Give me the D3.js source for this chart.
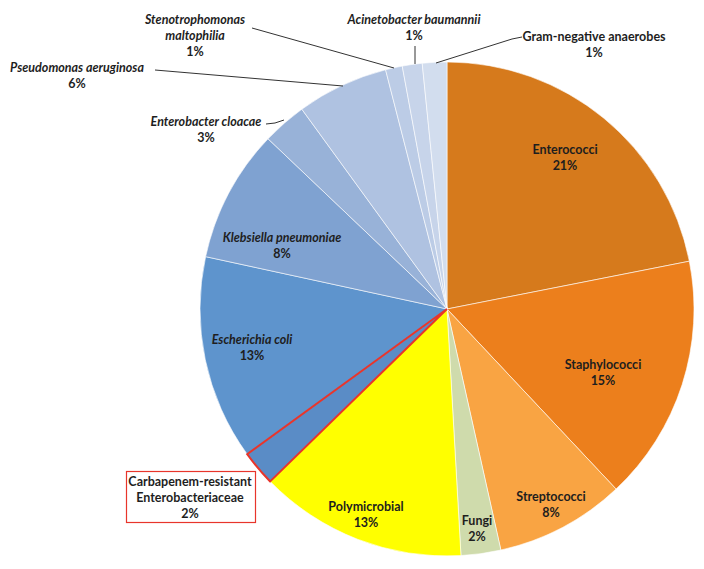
<!DOCTYPE html>
<html><head><meta charset="utf-8">
<script src="https://cdn.jsdelivr.net/npm/d3@7/dist/d3.min.js"></script>
<style>
html,body{margin:0;padding:0;background:#fff;}
svg text{font-family:Lato,"Open Sans",sans-serif;font-weight:bold;font-size:12.5px;fill:#1e1e1e;}
</style></head>
<body><svg id="c" width="704" height="569"></svg>
<script>
const categories = ["Enterococci","Staphylococci","Streptococci","Fungi","Polymicrobial","Carbapenem-resistant Enterobacteriaceae","Escherichia coli","Klebsiella pneumoniae","Enterobacter cloacae","Pseudomonas aeruginosa","Stenotrophomonas maltophilia","Acinetobacter baumannii","Gram-negative anaerobes"];
const values = [21.9,16.1,8.5,2.6,13.6,2.3,13.4,8.7,2.9,6.0,1.1,1.3,1.6];
const pctLabels = ["21%","15%","8%","2%","13%","2%","13%","8%","3%","6%","1%","1%","1%"];
const italicFlags = [false,false,false,false,false,false,true,true,true,true,true,true,false];
const colors = ["#D67A1C","#EC7F1C","#F9A443","#CFDBAC","#FFFF00","#5A8CC6","#5E94CD","#7FA2D1","#98B2D8","#AFC2E1","#BCCCE6","#C7D4EA","#D2DDEE"];

// layout (not data): label line texts and anchor positions
const labelLines = [["Enterococci"],["Staphylococci"],["Streptococci"],["Fungi"],["Polymicrobial"],["Carbapenem-resistant","Enterobacteriaceae"],["Escherichia coli"],["Klebsiella pneumoniae"],["Enterobacter cloacae"],["Pseudomonas aeruginosa"],["Stenotrophomonas","maltophilia"],["Acinetobacter baumannii"],["Gram-negative anaerobes"]];
const labelXY = [[565,154],[603,369],[551,501],[477,525],[366,511],[190,486],[252,344],[282,242],[206,126],[77,72],[195,24],[414,24],[594,41]];
const leaderPts = [null,null,null,null,null,null,null,null,
  [[266,124],[275,123],[284,120]],
  [[155,70],[343,86]],
  [[252,28],[394,68]],
  [[415,46],[415,64]],
  [[522,37],[512,39],[436,63]]];

const cx = 447, cy = 309, r = 247;
const svg = d3.select("#c");
const g = svg.append("g").attr("transform",`translate(${cx},${cy})`);
const pie = d3.pie().sort(null).value(d=>d).startAngle(0).endAngle(2*Math.PI);
const arcs = pie(values);
const arc = d3.arc().innerRadius(0).outerRadius(r);

g.selectAll("path.slice").data(arcs).join("path")
  .attr("class","slice")
  .attr("d",arc)
  .attr("fill",(d,i)=>colors[i])
  .attr("stroke",(d,i)=>"#ffffff")
  .attr("stroke-width",0.6);

// red outline for CRE
g.append("path").datum(arcs[5]).attr("d",arc)
  .attr("fill","none").attr("stroke","#E8352B").attr("stroke-width",2).attr("stroke-linejoin","miter");

// leader lines
const line = d3.line();
leaderPts.forEach(p=>{ if(p) svg.append("path").attr("d",line(p)).attr("fill","none").attr("stroke","#333").attr("stroke-width",1); });

// CRE box
svg.append("rect").attr("x",126.5).attr("y",471.5).attr("width",129).attr("height",51)
  .attr("fill","#fff").attr("stroke","#E8352B").attr("stroke-width",1.2);

const lh = 16;
categories.forEach((c,i)=>{
  const [x,y] = labelXY[i];
  const t = svg.append("text").attr("x",x).attr("y",y).attr("text-anchor","middle");
  labelLines[i].forEach((ln,k)=>{
    t.append("tspan").attr("x",x).attr("dy",k===0?0:lh).text(ln)
     .attr("font-style",italicFlags[i]?"italic":"normal");
  });
  t.append("tspan").attr("x",x).attr("dy",lh).text(pctLabels[i]);
});
</script></body></html>
